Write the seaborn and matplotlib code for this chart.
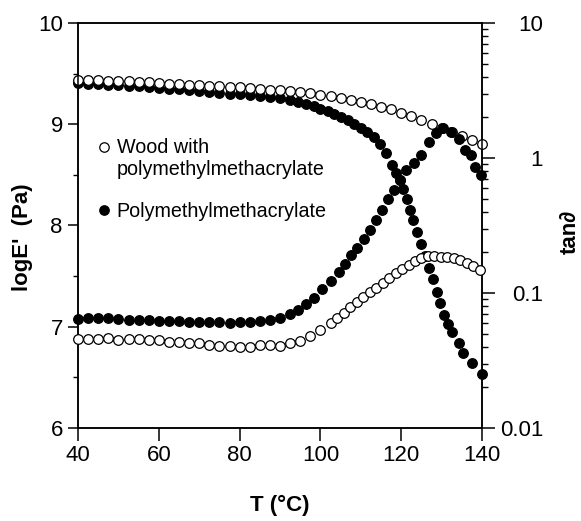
import matplotlib
matplotlib.use("Agg")
import matplotlib.pyplot as plt
from matplotlib.lines import Line2D
from matplotlib.ticker import FixedLocator, LogLocator, NullFormatter
import seaborn as sns

# Wood with PMMA, storage modulus (left axis)
wood_E_T = [40, 42.5, 45, 47.5, 50, 52.5, 55, 57.5, 60, 62.5, 65, 67.5, 70, 72.5,
            75, 77.5, 80, 82.5, 85, 87.5, 90, 92.5, 95, 97.5, 100, 102.5, 105,
            107.5, 110, 112.5, 115, 117.5, 120, 122.5, 125, 127.5, 130, 132.5,
            135, 137.5, 140]
wood_logE = [9.44, 9.44, 9.44, 9.43, 9.43, 9.43, 9.42, 9.42, 9.41, 9.40, 9.40,
             9.39, 9.39, 9.38, 9.38, 9.37, 9.37, 9.36, 9.35, 9.34, 9.34, 9.33,
             9.32, 9.31, 9.29, 9.28, 9.26, 9.24, 9.22, 9.20, 9.17, 9.15, 9.11,
             9.08, 9.04, 9.00, 8.96, 8.92, 8.88, 8.84, 8.80]

# PMMA, storage modulus (left axis)
pmma_E_T = [40, 42.5, 45, 47.5, 50, 52.5, 55, 57.5, 60, 62.5, 65, 67.5, 70, 72.5,
            75, 77.5, 80, 82.5, 85, 87.5, 90, 92.5, 94.5, 96.5, 98.3, 100, 101.8,
            103.4, 105, 106.7, 108.3, 110, 111.6, 113.2, 114.7, 116.2, 117.8,
            118.8, 119.6, 120.5, 121.3, 122.1, 122.9, 123.8, 124.8, 125.8, 126.9,
            127.8, 128.8, 129.7, 130.7, 131.6, 132.5, 134.2, 135.2, 137.4, 140]
pmma_logE = [9.41, 9.40, 9.40, 9.39, 9.39, 9.38, 9.38, 9.37, 9.36, 9.35, 9.35,
             9.34, 9.33, 9.32, 9.31, 9.30, 9.30, 9.29, 9.28, 9.27, 9.26, 9.24,
             9.22, 9.20, 9.18, 9.15, 9.13, 9.10, 9.07, 9.04, 9.00, 8.96, 8.92,
             8.87, 8.80, 8.72, 8.60, 8.52, 8.45, 8.36, 8.26, 8.15, 8.05, 7.94,
             7.82, 7.70, 7.58, 7.47, 7.34, 7.23, 7.12, 7.03, 6.95, 6.84, 6.74,
             6.64, 6.53]

# Wood with PMMA, tan delta (right axis)
wood_tan_T = [40, 42.5, 45, 47.5, 50, 52.5, 55, 57.5, 60, 62.5, 65, 67.5, 70,
              72.5, 75, 77.5, 80, 82.5, 85, 87.5, 90, 92.5, 95, 97.5, 100, 102.5,
              104.2, 105.8, 107.4, 109, 110.6, 112.2, 113.8, 115.4, 117, 118.6,
              120.2, 121.8, 123.4, 125, 126.6, 128.2, 129.8, 131.4, 133, 134.6,
              136.2, 137.8, 139.6]
wood_tan = [0.0457, 0.0457, 0.0457, 0.0465, 0.0449, 0.0457, 0.0457, 0.0449,
            0.0449, 0.0434, 0.0434, 0.0427, 0.0427, 0.0412, 0.0405, 0.0405,
            0.0398, 0.0398, 0.0412, 0.0412, 0.0405, 0.0427, 0.0442, 0.0482,
            0.0534, 0.0603, 0.0657, 0.0716, 0.0781, 0.0851, 0.0928, 0.1012,
            0.1084, 0.1182, 0.1288, 0.1404, 0.1505, 0.1612, 0.1728, 0.1820,
            0.1884, 0.1884, 0.1851, 0.1851, 0.1820, 0.1758, 0.1669, 0.1585,
            0.1479]

# PMMA, tan delta (right axis)
pmma_tan_T = [40, 42.5, 45, 47.5, 50, 52.5, 55, 57.5, 60, 62.5, 65, 67.5, 70,
              72.5, 75, 77.5, 80, 82.5, 85, 87.5, 90, 92.5, 94.5, 96.5, 98.5,
              100.5, 102.5, 104.5, 106, 107.5, 109, 110.8, 112.3, 113.8, 115.3,
              116.8, 118.2, 119.6, 121.2, 123.1, 125, 126.8, 128.6, 130.4, 132.4,
              134.2, 135.8, 137.3, 138.3, 139.8]
pmma_tan = [0.0646, 0.0657, 0.0657, 0.0657, 0.0646, 0.0635, 0.0635, 0.0635,
            0.0624, 0.0624, 0.0624, 0.0613, 0.0613, 0.0613, 0.0613, 0.0603,
            0.0613, 0.0613, 0.0624, 0.0635, 0.0657, 0.0704, 0.0754, 0.0822,
            0.0912, 0.1066, 0.1223, 0.1429, 0.1641, 0.1916, 0.2163, 0.2526,
            0.2951, 0.3447, 0.4098, 0.4955, 0.5786, 0.6879, 0.8175, 0.9226,
            1.059, 1.303, 1.522, 1.660, 1.549, 1.372, 1.155, 1.059, 0.861, 0.750]

x_ticks = [40, 60, 80, 100, 120, 140]
left_ticks = [6, 7, 8, 9, 10]
right_ticks = [0.01, 0.1, 1, 10]
right_labels = ["0.01", "0.1", "1", "10"]
legend_labels = ["Wood with", "polymethylmethacrylate", "", "Polymethylmethacrylate"]

sns.set_style("ticks")
plt.rcParams["font.family"] = ["Liberation Sans", "DejaVu Sans"]
plt.rcParams["text.color"] = "black"
plt.rcParams["axes.labelcolor"] = "black"
plt.rcParams["xtick.color"] = "black"
plt.rcParams["ytick.color"] = "black"

fig = plt.figure(figsize=(5.81, 5.21), dpi=100)
ax = fig.add_axes([0.1343, 0.1785, 0.6954, 0.7774])
ax2 = ax.twinx()

ms = 48
lw = 0.9
sns.scatterplot(x=pmma_E_T, y=pmma_logE, ax=ax, color="black", edgecolor="black",
                s=ms, linewidth=lw, clip_on=False, zorder=3)
sns.scatterplot(x=wood_E_T, y=wood_logE, ax=ax, color="white", edgecolor="black",
                s=ms, linewidth=lw, clip_on=False, zorder=4)

ax2.set_yscale("log")
sns.scatterplot(x=wood_tan_T, y=wood_tan, ax=ax2, color="white", edgecolor="black",
                s=ms, linewidth=lw, clip_on=False, zorder=3)
sns.scatterplot(x=pmma_tan_T, y=pmma_tan, ax=ax2, color="black", edgecolor="black",
                s=ms, linewidth=lw, clip_on=False, zorder=4)

ax.set_xlim(40, 140)
ax.set_ylim(6, 10)
ax2.set_ylim(0.01, 10)

for a in (ax, ax2):
    for sp in a.spines.values():
        sp.set_visible(True)
        sp.set_linewidth(1.1)
        sp.set_color("black")

ax.set_xticks(x_ticks)
ax.set_xticklabels([str(t) for t in x_ticks])
ax.set_yticks(left_ticks)
ax.set_yticklabels([str(t) for t in left_ticks])
ax.yaxis.set_minor_locator(FixedLocator([6.5, 7.5, 8.5, 9.5]))
ax.tick_params(axis="x", which="major", direction="out", length=9, width=1.1,
               labelsize=16, pad=3, top=False, colors="black")
ax.tick_params(axis="y", which="major", direction="out", length=7, width=1.1,
               labelsize=16, pad=4, right=False, colors="black")
ax.tick_params(axis="y", which="minor", direction="out", length=3.8, width=1.0,
               left=True, right=False, colors="black")

ax2.set_yticks(right_ticks)
ax2.set_yticklabels(right_labels)
ax2.yaxis.set_minor_locator(LogLocator(base=10, subs=range(2, 10), numticks=20))
ax2.yaxis.set_minor_formatter(NullFormatter())
ax2.tick_params(axis="y", which="major", direction="out", length=9, width=1.1,
                labelsize=16, pad=35, colors="black")
ax2.tick_params(axis="y", which="minor", direction="out", length=4.3, width=1.0,
                colors="black")
for lbl in ax2.get_yticklabels():
    lbl.set_horizontalalignment("right")

ax.set_xlabel("T (°C)", fontsize=16, fontweight="bold", color="black")
ax.xaxis.set_label_coords(0.5, -0.165)
ax.set_ylabel("logE'  (Pa)", fontsize=16, fontweight="bold", color="black")
ax.yaxis.set_label_coords(-0.111, 0.472)
ax2.set_ylabel("tan\u2202", fontsize=16, fontweight="bold", color="black")
ax2.yaxis.set_label_coords(1.193, 0.484)

handles = [
    Line2D([], [], ls="none", marker="o", ms=6.8, mfc="white", mec="black", mew=lw),
    Line2D([], [], ls="none"),
    Line2D([], [], ls="none"),
    Line2D([], [], ls="none", marker="o", ms=6.8, mfc="black", mec="black", mew=lw),
]
ax.legend(handles, legend_labels, loc="upper left", bbox_to_anchor=(0.04, 0.715),
          frameon=False, fontsize=14.2, handlelength=1.0, handletextpad=0.15,
          labelspacing=0.11, borderpad=0, borderaxespad=0)

fig.savefig("out.png", dpi=100)
